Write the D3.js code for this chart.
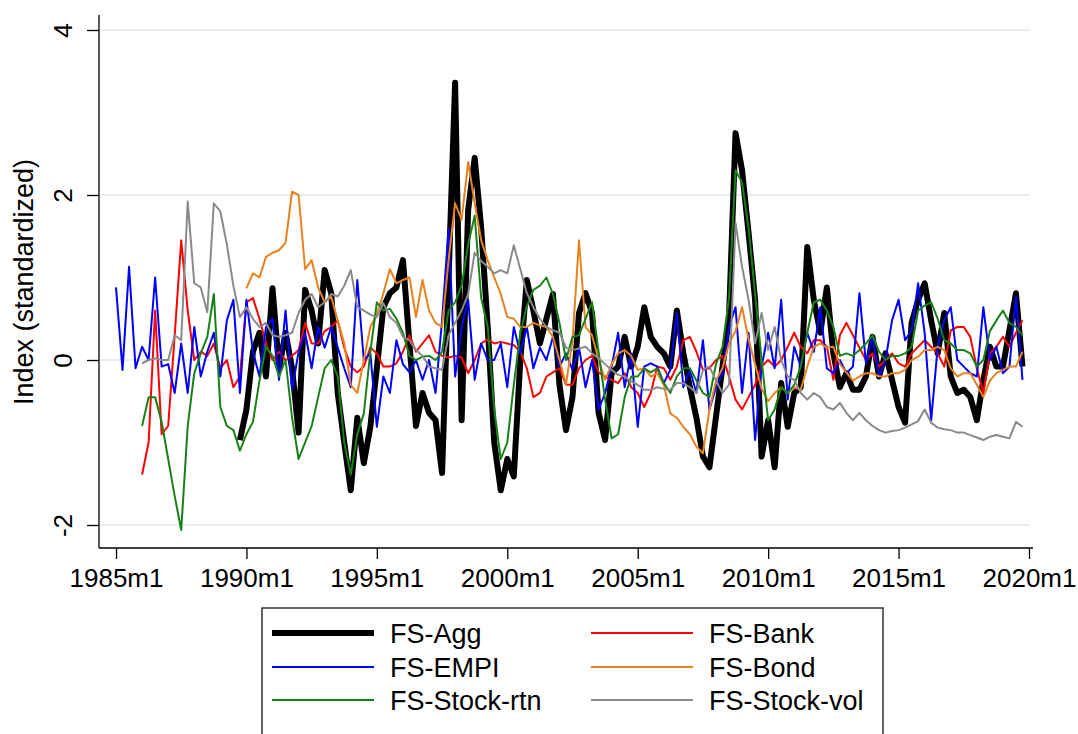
<!DOCTYPE html>
<html>
<head>
<meta charset="utf-8">
<script src="https://cdn.jsdelivr.net/npm/d3@7"></script>
<style>
  body { margin: 0; background: #fff; }
  text { font-family: Arial, "Liberation Sans", sans-serif; fill: #000; }
</style>
</head>
<body>
<div id="main"></div>
<script>
// quarterly grid, months since 1985m1
const months = d3.range(0, 420, 3);

// FS-Agg starts 1989q4
const aggStart = 19;
const agg = [-0.97, -0.6, 0.1, 0.33, -0.2, 0.87, -0.1, 0.33, -0.1, -0.88,
  0.85, 0.6, 0.2, 1.09, 0.81, -0.4, -1.0, -1.58, -0.7, -1.25,
  -0.81, -0.1, 0.64, 0.81, 0.88, 1.21, 0.2, -0.8, -0.4, -0.64,
  -0.73, -1.37, 1.0, 3.36, -0.73, 1.82, 2.45, 1.6, 0.4, -1.0,
  -1.58, -1.2, -1.41, 0.0, 0.97, 0.6, 0.2, 0.5, 0.8, -0.3,
  -0.85, -0.45, 0.57, 0.81, 0.57, -0.64, -0.97, -0.16, -0.08, 0.28,
  -0.08, 0.16, 0.64, 0.28, 0.16, 0.08, -0.08, 0.6, 0.08, -0.33,
  -0.7, -1.17, -1.3, -0.69, -0.08, 0.52, 2.75, 2.3, 1.54, 0.73,
  -1.17, -0.73, -1.3, -0.28, -0.81, -0.4, -0.33, 1.37, 0.73, 0.33,
  0.88, 0.08, -0.33, -0.16, -0.36, -0.36, -0.2, 0.28, -0.2, 0.08,
  -0.24, -0.57, -0.76, 0.45, 0.73, 0.93, 0.48, 0.08, 0.57, -0.2,
  -0.4, -0.36, -0.45, -0.73, -0.24, 0.16, -0.08, -0.08, 0.36, 0.81, -0.08];

// FS-Bank starts 1986q1
const bankStart = 4;
const bank = [-1.39, -1.0, 0.6, -0.9, -0.8, 0.3, 1.45, 0.6, 0.0, 0.1,
  0.05, 0.2, -0.1, 0.0, -0.33, -0.2, 0.7, 0.75, 0.5, 0.2,
  0.0, 0.1, 0.0, 0.05, 0.12, 0.45, 0.2, 0.2, 0.35, 0.4,
  0.48, 0.15, -0.08, -0.15, -0.08, 0.15, 0.08, -0.08, -0.08, -0.04,
  0.1, 0.3, 0.1, 0.2, 0.3, 0.1, 0.05, 0.03, 0.05, 0.03,
  -0.16, 0.0, 0.2, 0.25, 0.2, 0.22, 0.2, 0.18, 0.1, -0.1,
  -0.45, -0.4, -0.2, -0.15, -0.1, -0.3, -0.3, -0.1, 0.0, 0.05,
  -0.15, -0.2, -0.24, -0.28, -0.16, -0.33, -0.4, -0.57, -0.4, -0.08,
  -0.1, -0.24, -0.08, 0.24, 0.28, 0.1, -0.12, -0.1, 0.0, 0.05,
  -0.2, -0.48, -0.6, -0.45, -0.3, -0.08, 0.0, -0.08, 0.0, 0.16,
  0.33, 0.16, 0.08, 0.24, 0.24, 0.16, -0.24, 0.3, 0.45, 0.3,
  0.15, 0.0, 0.08, -0.08, 0.0, 0.08, -0.04, -0.08, 0.08, 0.16,
  0.24, 0.16, 0.08, -0.08, 0.36, 0.4, 0.4, 0.28, -0.1, -0.4,
  0.08, 0.16, 0.28, 0.16, 0.33, 0.48];

// FS-EMPI starts 1985q1
const empiStart = 0;
const empi = [0.88, -0.12, 1.13, -0.1, 0.16, 0.0, 1.0, -0.08, -0.05, -0.4,
  0.2, -0.4, 0.4, -0.2, 0.1, 0.33, -0.2, 0.48, 0.73, -0.4,
  0.73, 0.1, -0.2, 0.4, 0.5, -0.24, 0.6, -0.36, 0.1, 0.33,
  -0.1, 0.4, 0.15, 0.4, 0.15, -0.1, -0.33, 0.97, 0.0, 0.08,
  -0.81, -0.2, -0.4, 0.24, -0.05, -0.15, 0.0, -0.24, 0.0, -0.4,
  0.48, 1.6, -0.2, 0.4, 0.73, -0.24, 0.2, 0.0, 0.0, 0.2,
  -0.33, 0.4, 0.08, 0.4, -0.1, 0.15, 0.0, 0.28, -0.08, 0.08,
  -0.12, 0.15, -0.33, 0.0, -0.6, -0.4, -0.08, 0.33, -0.33, 0.08,
  -0.81, -0.08, -0.04, -0.08, -0.28, -0.12, 0.57, -0.33, -0.12, -0.4,
  0.24, -0.6, -0.33, -0.16, 0.4, 0.64, -0.4, 0.33, -0.97, -0.08,
  0.33, -0.1, 0.73, -0.48, 0.16, -0.08, 0.33, 0.1, 0.64, -0.1,
  -0.16, 0.0, -0.16, -0.08, 0.81, -0.04, 0.28, -0.2, 0.0, 0.48,
  0.73, 0.24, 0.36, 0.93, 0.33, -0.73, 0.16, 0.48, 0.64, 0.0,
  -0.08, -0.16, -0.2, 0.64, 0.0, 0.16, -0.16, -0.08, 0.77, -0.24];

// FS-Bond starts 1990q1
const bondStart = 20;
const bond = [0.87, 1.05, 1.0, 1.25, 1.3, 1.33, 1.42, 2.04, 2.0, 1.1,
  1.21, 0.88, 0.7, 0.77, 0.48, 0.2, -0.3, -0.4, 0.0, 0.4,
  0.55, 0.81, 1.1, 0.93, 0.97, 1.0, 0.52, 0.97, 0.6, 0.45,
  0.4, 1.21, 1.9, 1.7, 2.4, 1.9, 1.45, 1.21, 1.0, 0.8,
  0.52, 0.5, 0.4, 0.4, 0.45, 0.42, 0.4, 0.28, 0.0, -0.3,
  0.24, 1.45, 0.4, 0.3, 0.0, -0.24, -0.05, 0.08, 0.12, 0.05,
  -0.12, -0.1, -0.2, -0.16, -0.3, -0.65, -0.7, -0.81, -0.9, -1.05,
  -1.13, -0.6, -0.25, -0.1, 0.2, 0.35, 0.64, 0.25, -0.05, -0.35,
  -0.5, -0.4, -0.33, -0.4, -0.33, -0.36, -0.08, 0.16, 0.2, 0.15,
  0.16, -0.05, -0.15, -0.25, -0.2, -0.16, -0.16, -0.2, -0.2, -0.16,
  -0.16, -0.12, 0.0, 0.04, 0.12, 0.12, 0.16, 0.12, -0.1, -0.2,
  -0.16, -0.16, -0.3, -0.45, -0.25, -0.16, -0.12, -0.08, -0.08, 0.1];

// FS-Stock-rtn starts 1986q1
const rtnStart = 4;
const rtn = [-0.8, -0.45, -0.45, -0.75, -1.2, -1.65, -2.06, -0.8, -0.16, 0.08,
  0.28, 0.8, -0.57, -0.8, -0.85, -1.1, -0.9, -0.75, -0.25, 0.16,
  0.05, -0.2, 0.0, -0.7, -1.2, -1.0, -0.8, -0.45, -0.1, 0.0,
  -0.2, -1.0, -1.39, -0.9, -0.65, 0.1, 0.7, 0.6, 0.62, 0.5,
  0.33, 0.05, 0.0, 0.04, 0.05, 0.0, 0.1, 0.6, 0.7, 0.9,
  1.4, 1.75, 0.75, 0.4, -0.6, -1.2, -1.0, -0.3, 0.33, 0.65,
  0.85, 0.9, 1.0, 0.8, 0.45, 0.0, 0.28, 0.3, 0.5, 0.7,
  0.1, -0.48, -0.95, -0.9, -0.45, -0.2, -0.2, -0.1, -0.15, -0.1,
  -0.28, -0.4, -0.2, -0.1, -0.1, -0.25, -0.4, -0.45, -0.05, 0.16,
  0.75, 2.3, 2.15, 1.6, 0.8, 0.0, -0.73, -0.6, -0.33, -0.4,
  -0.3, -0.08, 0.33, 0.7, 0.73, 0.6, 0.4, 0.05, 0.08, 0.05,
  0.12, 0.2, 0.3, 0.1, 0.0, 0.05, 0.05, 0.08, 0.16, 0.6,
  0.66, 0.7, 0.5, 0.24, 0.2, 0.12, 0.12, 0.08, -0.08, 0.0,
  0.35, 0.48, 0.6, 0.45, 0.4, 0.3];

// FS-Stock-vol starts 1986q1
const volStart = 4;
const vol = [-0.04, 0.0, 0.02, 0.0, 0.0, 0.3, 0.24, 1.92, 0.93, 0.88,
  0.58, 1.9, 1.8, 1.4, 0.9, 0.52, 0.64, 0.5, 0.4, 0.45,
  0.3, 0.28, 0.3, 0.33, 0.57, 0.73, 0.8, 0.64, 0.7, 0.8,
  0.77, 0.9, 1.09, 0.64, 0.6, 0.55, 0.52, 0.69, 0.52, 0.45,
  0.28, 0.24, 0.12, 0.05, -0.08, -0.1, -0.12, 0.3, 0.45, 0.6,
  0.8, 1.3, 1.2, 1.13, 1.05, 1.09, 1.05, 1.39, 1.1, 0.81,
  0.64, 0.5, 0.4, 0.36, 0.33, 0.15, 0.12, 0.14, 0.16, 0.08,
  0.02, -0.05, -0.12, -0.18, -0.2, -0.26, -0.3, -0.36, -0.36, -0.33,
  -0.35, -0.36, -0.28, -0.28, -0.33, -0.4, -0.12, -0.08, -0.25, -0.4,
  -0.3, 1.66, 1.13, 0.73, 0.2, 0.57, 0.12, 0.4, 0.0, -0.2,
  -0.24, -0.4, -0.48, -0.4, -0.45, -0.57, -0.6, -0.52, -0.64, -0.73,
  -0.64, -0.73, -0.8, -0.85, -0.88, -0.86, -0.85, -0.82, -0.78, -0.74,
  -0.6, -0.76, -0.82, -0.84, -0.85, -0.88, -0.88, -0.91, -0.94, -0.97,
  -0.93, -0.91, -0.93, -0.95, -0.75, -0.81];

const yTicks = [-2, 0, 2, 4];
const xTicks = [0, 60, 120, 180, 240, 300, 360, 420];

const width = 1078;
const height = 734;

const series = [
  { name: "FS-Agg", color: "#000000", w: 6, start: aggStart, values: agg },
  { name: "FS-Bank", color: "#ff0000", w: 2, start: bankStart, values: bank },
  { name: "FS-EMPI", color: "#0000ff", w: 2, start: empiStart, values: empi },
  { name: "FS-Bond", color: "#e8821e", w: 2, start: bondStart, values: bond },
  { name: "FS-Stock-rtn", color: "#168216", w: 2, start: rtnStart, values: rtn },
  { name: "FS-Stock-vol", color: "#8a8a8a", w: 2, start: volStart, values: vol }
];

const svg = d3
    .select("#main")
    .append("svg")
    .attr("width", width)
    .attr("height", height);

const x = d3.scaleLinear()
    .domain([0, 420])
    .range([116, 1029]);

const y = d3.scaleLinear()
    .domain([-2, 4])
    .range([525, 30]);

const plotLeft = 99;
const plotRight = 1033;
const plotBottom = 548;
const plotTop = 15;

// gridlines
svg.append("g")
    .selectAll("line")
    .data(yTicks)
    .join("line")
    .attr("x1", plotLeft + 1)
    .attr("x2", plotRight - 3)
    .attr("y1", d => y(d))
    .attr("y2", d => y(d))
    .attr("stroke", "#e6eff2")
    .attr("stroke-width", 2);

// lines
const line = d3.line()
    .x(d => x(d.m))
    .y(d => y(d.v));

series.forEach(s => {
    const pts = s.values.map((v, i) => ({ m: months[s.start + i], v: v }));
    svg.append("path")
        .datum(pts)
        .attr("fill", "none")
        .attr("stroke", s.color)
        .attr("stroke-width", s.w)
        .attr("stroke-linejoin", "round")
        .attr("d", line);
});

// axes
svg.append("line")
    .attr("x1", plotLeft).attr("x2", plotLeft)
    .attr("y1", plotTop).attr("y2", plotBottom)
    .attr("stroke", "#000").attr("stroke-width", 1.3);
svg.append("line")
    .attr("x1", plotLeft).attr("x2", plotRight)
    .attr("y1", plotBottom).attr("y2", plotBottom)
    .attr("stroke", "#000").attr("stroke-width", 1.3);

const xAxis = svg.append("g")
    .attr("transform", "translate(0," + plotBottom + ")")
    .call(d3.axisBottom(x)
        .tickValues(xTicks)
        .tickSize(11)
        .tickPadding(10)
        .tickFormat(m => (1985 + m / 12) + "m1"));
xAxis.select(".domain").remove();
xAxis.selectAll("line").attr("stroke-width", 1.3);
xAxis.selectAll("text")
    .attr("dy", "0.71em")
    .style("font-size", "26px")
    .style("font-family", "Arial, 'Liberation Sans', sans-serif");

const yAxis = svg.append("g")
    .attr("transform", "translate(" + plotLeft + ",0)")
    .call(d3.axisLeft(y)
        .tickValues(yTicks)
        .tickSize(12)
        .tickFormat(d => String(d)));
yAxis.select(".domain").remove();
yAxis.selectAll("line").attr("stroke-width", 1.3);
yAxis.selectAll("text")
    .attr("transform", "rotate(-90)")
    .attr("x", 0)
    .attr("y", -27)
    .attr("dy", 0)
    .attr("text-anchor", "middle")
    .style("font-size", "26px")
    .style("font-family", "Arial, 'Liberation Sans', sans-serif");

svg.append("text")
    .attr("transform", "translate(33,282) rotate(-90)")
    .attr("text-anchor", "middle")
    .style("font-size", "27px")
    .text("Index (standardized)");

// legend
const legend = svg.append("g");
legend.append("rect")
    .attr("x", 262)
    .attr("y", 608)
    .attr("width", 621)
    .attr("height", 140)
    .attr("fill", "#fff")
    .attr("stroke", "#333")
    .attr("stroke-width", 1.5);

const rowY = [633, 667, 700];
const colX = [272, 591];
series.forEach((s, i) => {
    const cx = colX[i % 2];
    const cy = rowY[Math.floor(i / 2)];
    legend.append("line")
        .attr("x1", cx).attr("x2", cx + 102)
        .attr("y1", cy).attr("y2", cy)
        .attr("stroke", s.color)
        .attr("stroke-width", s.w);
    legend.append("text")
        .attr("x", cx + 118)
        .attr("y", cy + 10)
        .style("font-size", "27px")
        .text(s.name);
});
</script>
</body>
</html>
